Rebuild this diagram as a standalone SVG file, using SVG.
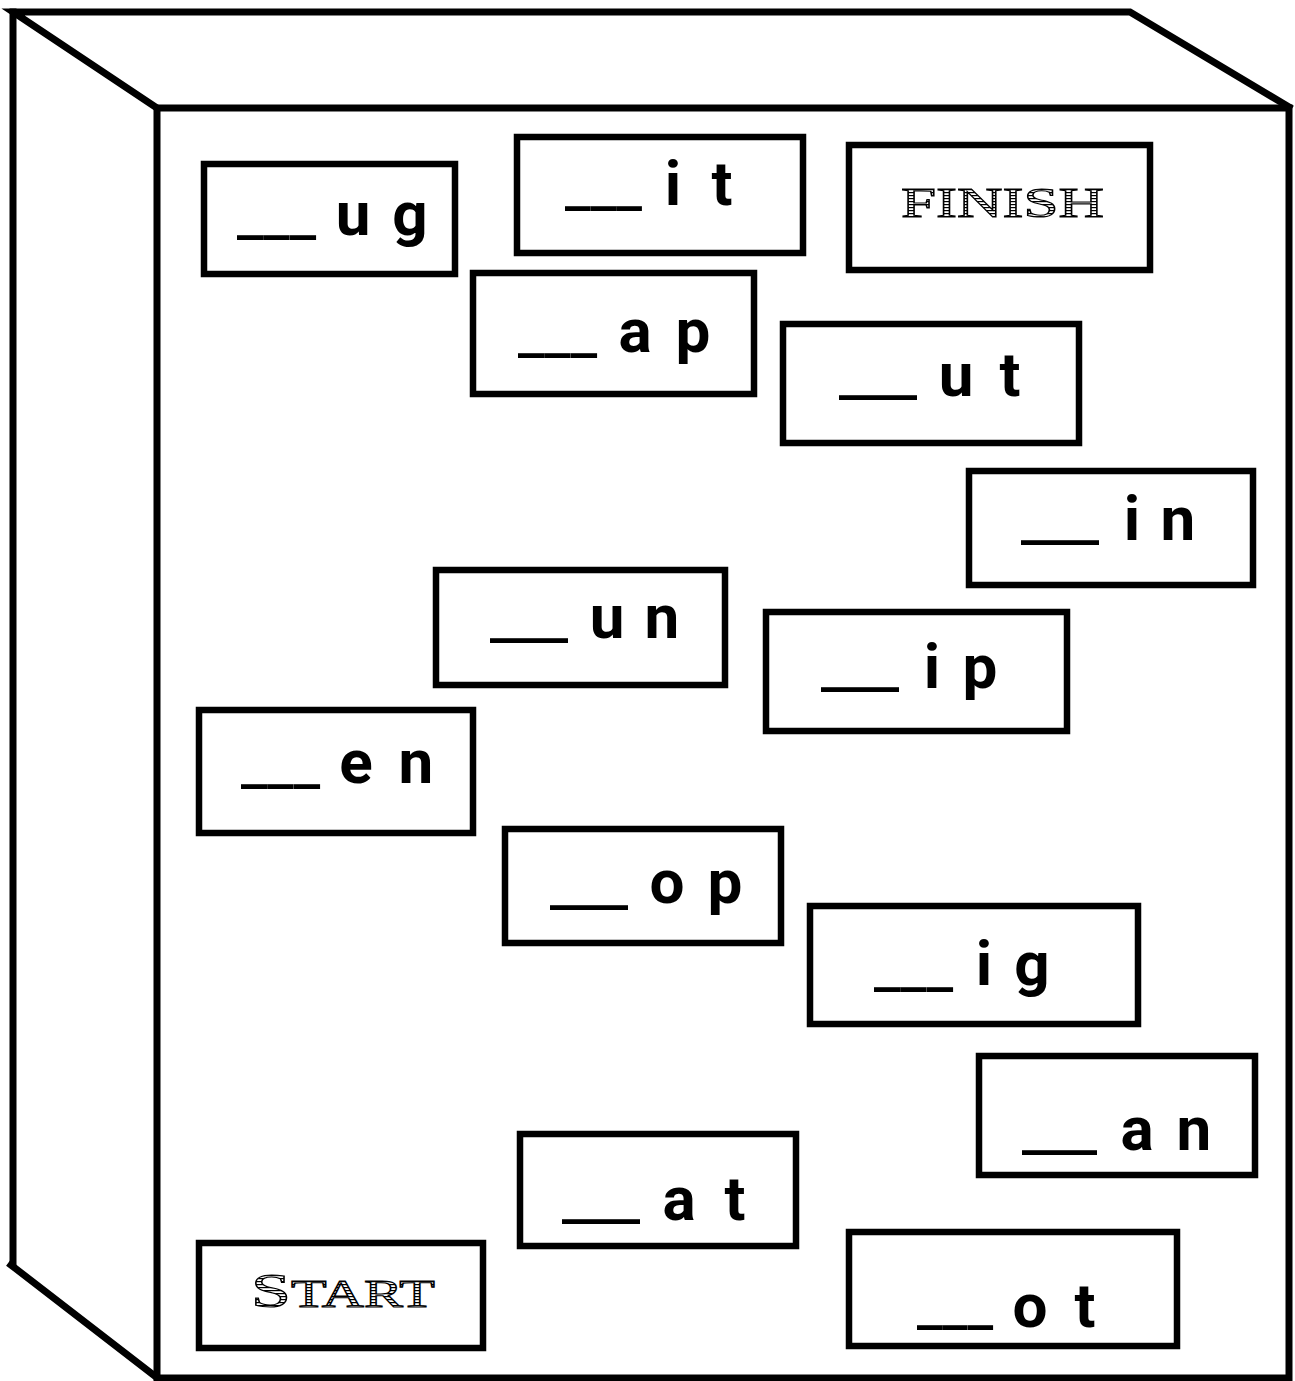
<svg xmlns="http://www.w3.org/2000/svg" width="1295" height="1381" viewBox="0 0 1295 1381">
<defs>
<pattern id="hatch" width="4" height="3" patternUnits="userSpaceOnUse">
<rect width="4" height="3" fill="#fff"/>
<rect width="4" height="1.2" fill="#000"/>
</pattern>
<style>
.edge{fill:none;stroke:#000;stroke-width:7;stroke-linejoin:miter;stroke-linecap:square}
.card{fill:#fff;stroke:#000;stroke-width:6.5}
.lt{font-family:Roboto,"Open Sans","DejaVu Sans",sans-serif;font-weight:700;font-size:62px;fill:#000;text-anchor:middle}
.bl{font-family:"DejaVu Sans",sans-serif;font-weight:700;font-size:52px;fill:#000}
.eng{font-family:"Liberation Serif","DejaVu Serif",serif;fill:url(#hatch);stroke:#000;stroke-width:1.1}
</style>
</defs>
<rect width="1295" height="1381" fill="#fff"/>
<g id="box3d">
<polyline class="edge" points="157,108 13,12 1130,12 1289,107"/>
<polyline class="edge" points="13,12 13,1262"/>
<polyline class="edge" points="11,1265 156,1377"/>
<rect class="edge" x="157" y="108" width="1132" height="1270"/>
</g>
<g id="connectors"></g>
<g id="n-ug"><rect class="card" x="204" y="164" width="251" height="110"/><text><tspan class="bl" x="237" y="228" textLength="79" lengthAdjust="spacingAndGlyphs">___</tspan><tspan class="lt" x="353 381 410" y="235">u g</tspan></text></g>
<g id="n-it"><rect class="card" x="517" y="137" width="286" height="116"/><text><tspan class="bl" x="565" y="199" textLength="77" lengthAdjust="spacingAndGlyphs">___</tspan><tspan class="lt" x="673 697 722" y="205">i t</tspan></text></g>
<g id="n-finish"><rect class="card" x="849" y="145" width="301" height="125"/><text class="eng" x="901" y="217" font-size="42" textLength="203" lengthAdjust="spacingAndGlyphs">FINISH</text></g>
<g id="n-ap"><rect class="card" x="473" y="273" width="281" height="121"/><text><tspan class="bl" x="518" y="346" textLength="79" lengthAdjust="spacingAndGlyphs">___</tspan><tspan class="lt" x="635 664 693" y="352">a p</tspan></text></g>
<g id="n-ut"><rect class="card" x="783" y="324" width="296" height="119"/><text><tspan class="bl" x="839" y="388" textLength="78" lengthAdjust="spacingAndGlyphs">___</tspan><tspan class="lt" x="956 983 1010" y="396">u t</tspan></text></g>
<g id="n-in"><rect class="card" x="969" y="471" width="284" height="114"/><text><tspan class="bl" x="1021" y="533" textLength="78" lengthAdjust="spacingAndGlyphs">___</tspan><tspan class="lt" x="1132 1155 1178" y="540">i n</tspan></text></g>
<g id="n-un"><rect class="card" x="436" y="570" width="289" height="115"/><text><tspan class="bl" x="490" y="631" textLength="78" lengthAdjust="spacingAndGlyphs">___</tspan><tspan class="lt" x="607 635 662" y="638">u n</tspan></text></g>
<g id="n-ip"><rect class="card" x="766" y="612" width="301" height="119"/><text><tspan class="bl" x="821" y="680" textLength="78" lengthAdjust="spacingAndGlyphs">___</tspan><tspan class="lt" x="932 956 980" y="688">i p</tspan></text></g>
<g id="n-en"><rect class="card" x="199" y="710" width="274" height="123"/><text><tspan class="bl" x="241" y="777" textLength="79" lengthAdjust="spacingAndGlyphs">___</tspan><tspan class="lt" x="356 386 416" y="783">e n</tspan></text></g>
<g id="n-op"><rect class="card" x="505" y="829" width="276" height="114"/><text><tspan class="bl" x="550" y="898" textLength="78" lengthAdjust="spacingAndGlyphs">___</tspan><tspan class="lt" x="667 696 725" y="903">o p</tspan></text></g>
<g id="n-ig"><rect class="card" x="810" y="906" width="328" height="118"/><text><tspan class="bl" x="874" y="980" textLength="79" lengthAdjust="spacingAndGlyphs">___</tspan><tspan class="lt" x="984 1008 1032" y="985">i g</tspan></text></g>
<g id="n-an"><rect class="card" x="979" y="1056" width="276" height="119"/><text><tspan class="bl" x="1022" y="1143" font-size="40" textLength="75" lengthAdjust="spacingAndGlyphs">___</tspan><tspan class="lt" x="1137 1165 1194" y="1150">a n</tspan></text></g>
<g id="n-at"><rect class="card" x="520" y="1134" width="276" height="112"/><text><tspan class="bl" x="562" y="1212" textLength="78" lengthAdjust="spacingAndGlyphs">___</tspan><tspan class="lt" x="679 707 735" y="1220">a t</tspan></text></g>
<g id="n-start"><rect class="card" x="199" y="1243" width="284" height="105"/><text class="eng" x="251" y="1307" font-size="48" textLength="184" lengthAdjust="spacingAndGlyphs">S<tspan font-size="39">TART</tspan></text></g>
<g id="n-ot"><rect class="card" x="849" y="1232" width="328" height="114"/><text><tspan class="bl" x="917" y="1318" textLength="76" lengthAdjust="spacingAndGlyphs">___</tspan><tspan class="lt" x="1030 1057 1085" y="1327">o t</tspan></text></g>
</svg>
